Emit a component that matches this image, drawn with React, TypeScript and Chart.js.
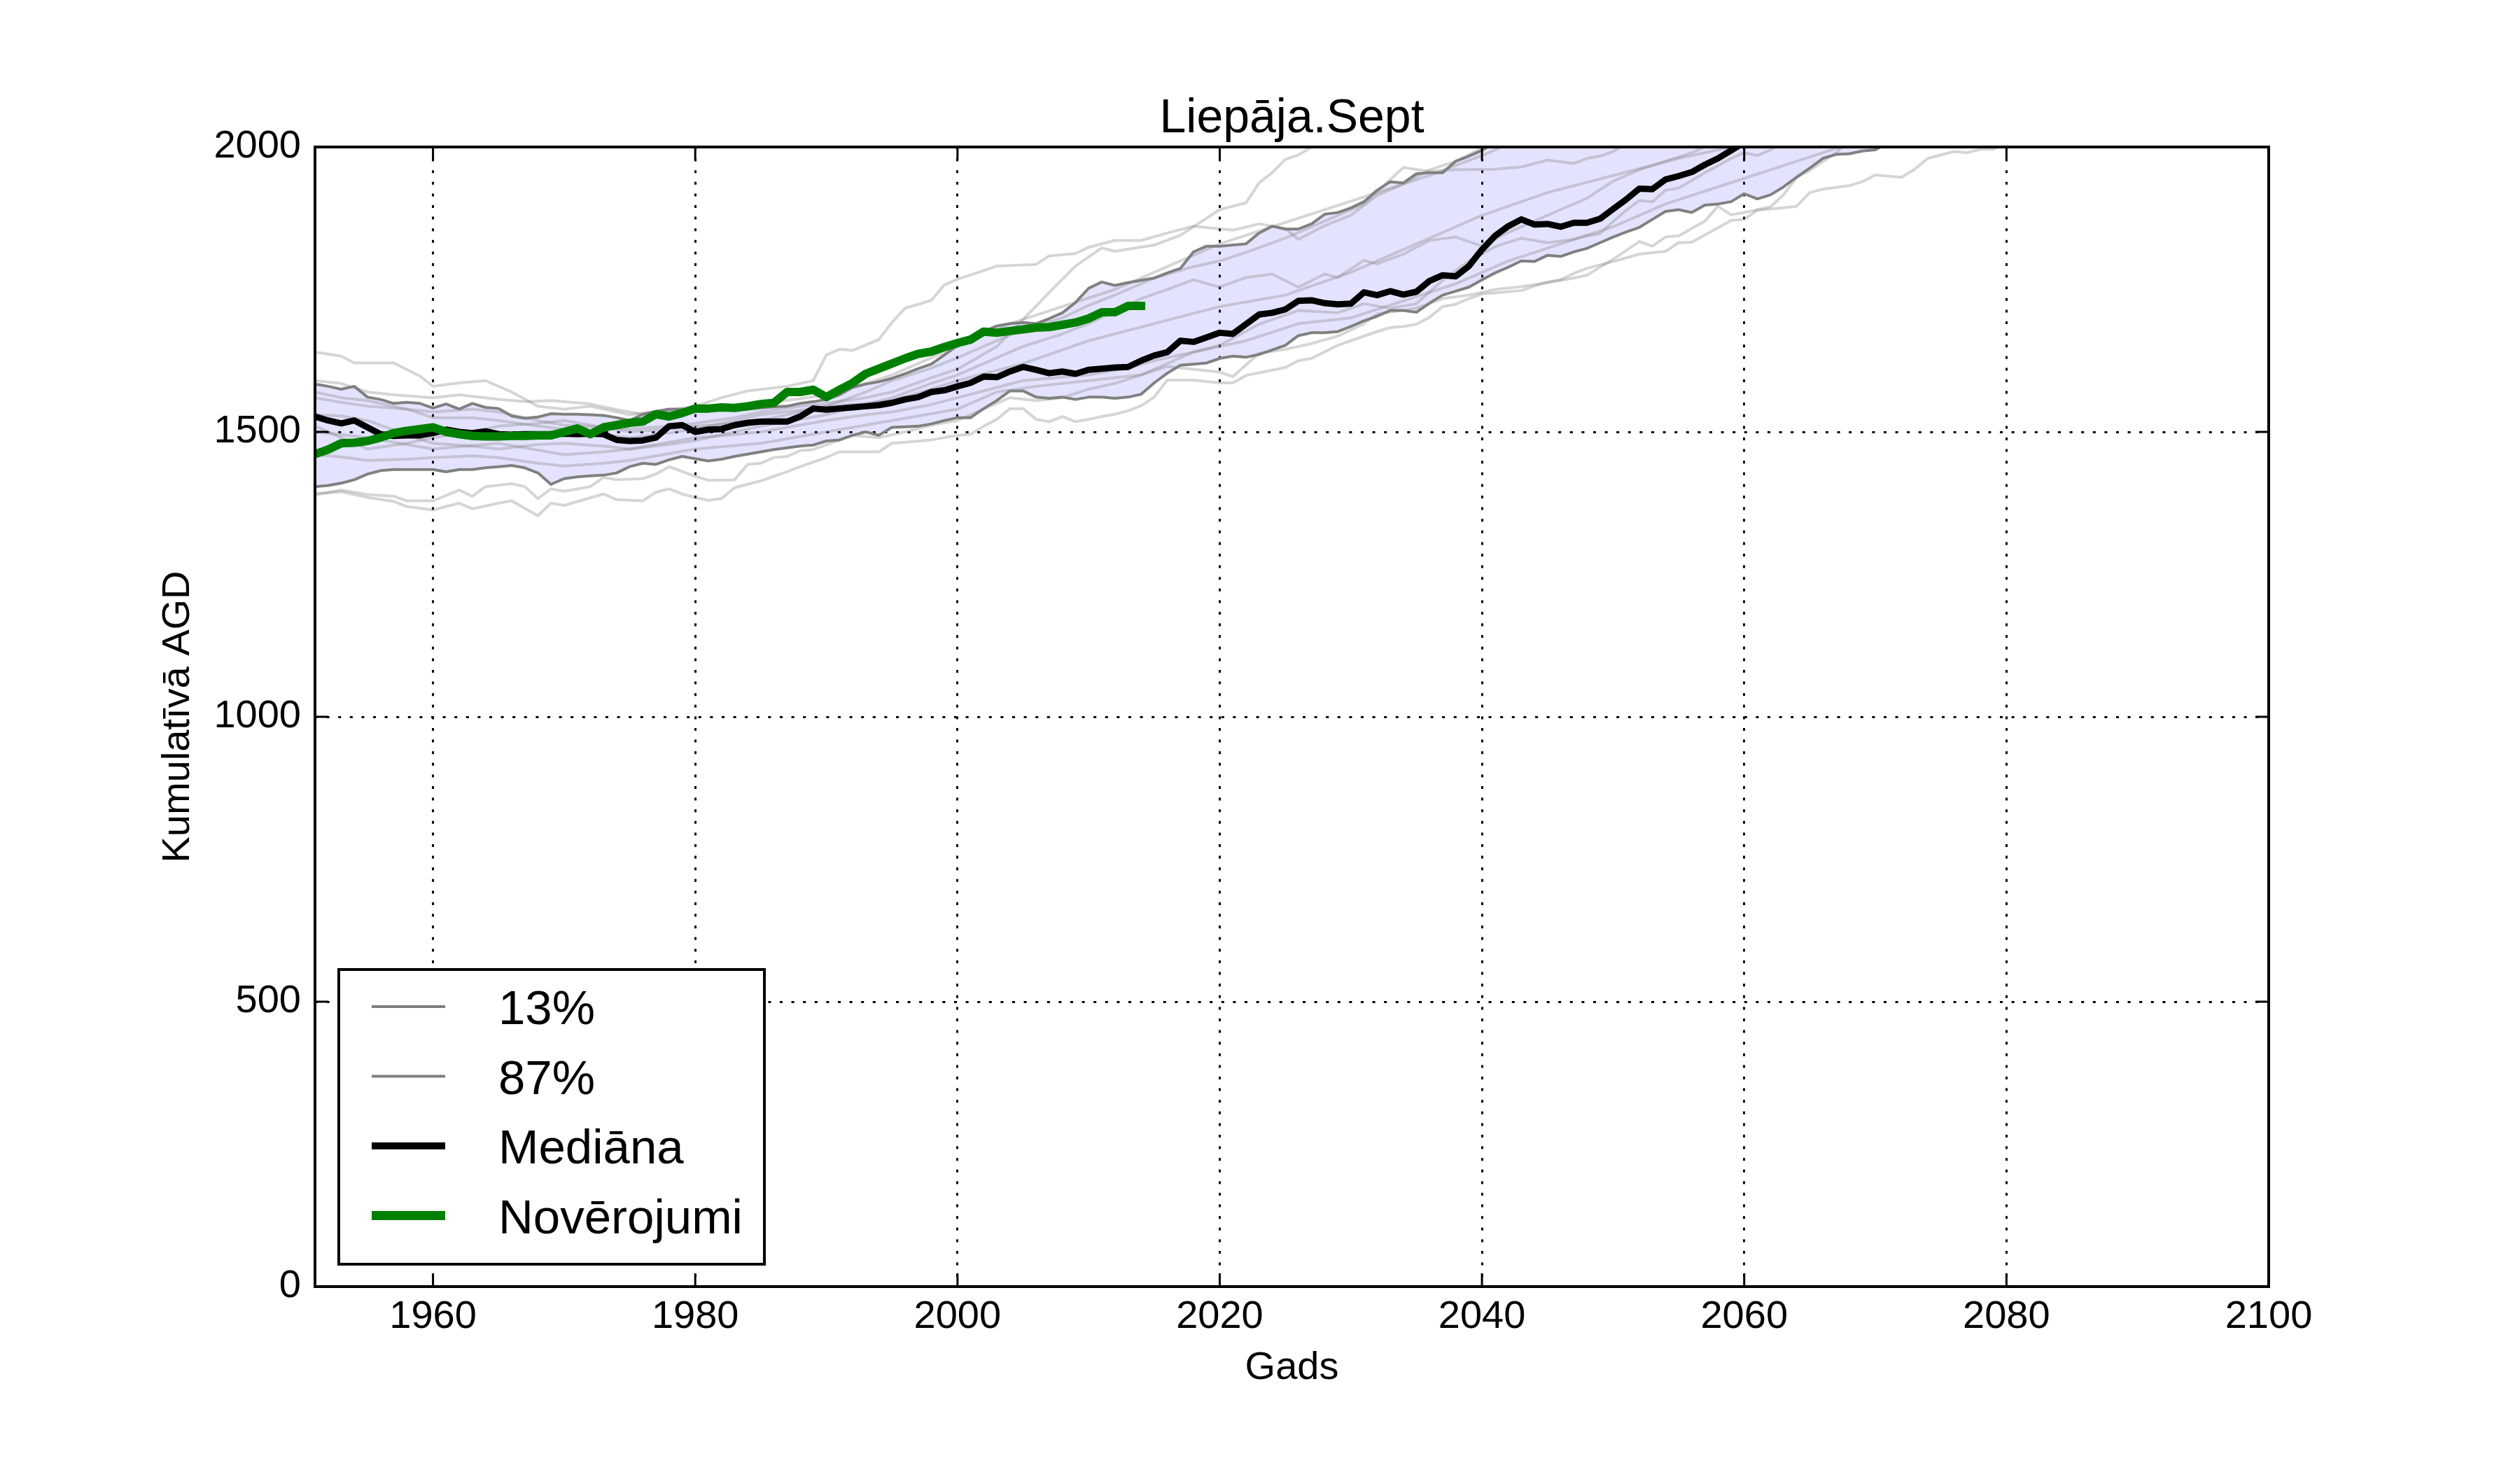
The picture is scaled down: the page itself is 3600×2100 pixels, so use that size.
import React, { useEffect, useRef } from 'react';
import { Chart, registerables } from 'chart.js';

Chart.register(...registerables);

const FONT = "'Liberation Sans', Arial, sans-serif";
const TITLE = 'Liepāja.Sept';
const X_TITLE = 'Gads';
const Y_TITLE = 'Kumulatīvā AGD';

const START_YEAR = 1951;
const xTicks = [1960, 1980, 2000, 2020, 2040, 2060, 2080, 2100];
const yTicks = [0, 500, 1000, 1500, 2000];

// Observations 1951..2014
const observed = [
  1461, 1469, 1480, 1481, 1484, 1490, 1498, 1502, 1505, 1508,
  1500, 1496, 1493, 1492, 1492, 1493, 1493, 1494, 1494, 1500,
  1506, 1496, 1508, 1512, 1516, 1518, 1531, 1527, 1533, 1541,
  1541, 1543, 1542, 1545, 1549, 1551, 1570, 1570, 1574, 1561,
  1574, 1586, 1602, 1611, 1620, 1629, 1637, 1641, 1649, 1656,
  1662, 1676, 1674, 1677, 1680, 1683, 1684, 1688, 1692, 1699,
  1710, 1710, 1721, 1721,
];

// Median 1951..2062
const median = [
  1527, 1520, 1515, 1520, 1508, 1496, 1493, 1494, 1494, 1498,
  1504, 1500, 1498, 1501, 1496, 1495, 1496, 1496, 1496, 1497,
  1496, 1497, 1496, 1486, 1484, 1485, 1490, 1510, 1512, 1500,
  1504, 1505, 1512, 1516, 1518, 1518, 1518, 1527, 1541, 1539,
  1541, 1543, 1545, 1547, 1551, 1557, 1561, 1570, 1573, 1580,
  1586, 1597, 1596, 1606, 1614, 1609, 1603, 1606, 1602, 1609,
  1611, 1613, 1614, 1625, 1634, 1640, 1660, 1658, 1666, 1674,
  1672, 1689, 1706, 1709, 1715, 1730, 1731, 1726, 1724, 1725,
  1745, 1740, 1747, 1741, 1746, 1765, 1775, 1773, 1791, 1820,
  1844, 1861, 1873, 1864, 1865, 1860, 1867, 1867, 1874, 1891,
  1908, 1927, 1926, 1943, 1949, 1956, 1969, 1980, 1994, 2008,
  2020, 2030,
];

// 13% quantile 1951..2072
const q13 = [
  1404, 1406, 1410, 1416, 1426, 1432, 1434, 1434, 1434, 1434,
  1430, 1434, 1434, 1437, 1439, 1441, 1437, 1428, 1408, 1418,
  1421, 1423, 1424, 1428, 1439, 1445, 1443, 1451, 1457, 1453,
  1449, 1452, 1457, 1461, 1465, 1469, 1472, 1475, 1477, 1484,
  1486, 1494, 1500, 1494, 1508, 1509, 1510, 1514, 1520, 1525,
  1525, 1541, 1555, 1572, 1572, 1561, 1559, 1561, 1557, 1561,
  1561, 1559, 1561, 1566, 1586, 1603, 1617, 1619, 1621, 1629,
  1633, 1631, 1636, 1644, 1652, 1669, 1674, 1674, 1676, 1685,
  1695, 1703, 1713, 1713, 1710, 1726, 1740, 1747, 1754, 1767,
  1779, 1789, 1800, 1799, 1810, 1808, 1816, 1822, 1832, 1842,
  1851, 1859, 1873, 1887, 1890, 1885, 1898, 1900, 1904, 1918,
  1909, 1916, 1930, 1947, 1963, 1980, 1987, 1988, 1993, 1995,
  2008, 2015,
];

// 87% quantile 1951..2042, then beyond the top of the axis
const q87 = [
  1584, 1580, 1575, 1580, 1561, 1557, 1550, 1552, 1550, 1542,
  1549, 1540, 1550, 1543, 1541, 1528, 1524, 1526, 1532, 1531,
  1531, 1530, 1529, 1525, 1520, 1531, 1536, 1540, 1540, 1540,
  1540, 1540, 1538, 1540, 1542, 1544, 1545, 1550, 1553, 1557,
  1565, 1578, 1584, 1588, 1594, 1602, 1611, 1619, 1635, 1652,
  1666, 1676, 1686, 1690, 1692, 1690, 1699, 1709, 1727, 1752,
  1763, 1757, 1762, 1766, 1770, 1779, 1787, 1816, 1826, 1826,
  1828, 1830, 1849, 1861, 1856, 1856, 1865, 1882, 1885, 1893,
  1904, 1924, 1939, 1937, 1953, 1955, 1955, 1975, 1984, 1994,
  2008, 2022,
];
const q87Beyond: [number, number][] = [[2050, 2110], [2060, 2250], [2072, 2400]];

// Individual ensemble members [year, value]
const memberA: [number, number][] = [[1951,1640],[1953,1633],[1954,1621],[1957,1621],[1959,1598],[1960,1580],[1962,1586],[1964,1590],[1966,1570],[1968,1545],[1970,1540],[1972,1545],[1975,1530],[1978,1538],[1980,1545],[1982,1560],[1984,1572],[1987,1580],[1989,1590],[1990,1635],[1991,1645],[1992,1643],[1994,1662],[1995,1692],[1996,1717],[1998,1731],[1999,1758],[2000,1768],[2002,1783],[2003,1791],[2006,1794],[2007,1809],[2009,1813],[2010,1824],[2012,1836],[2014,1836],[2016,1849],[2018,1861],[2021,1854],[2023,1865],[2025,1857],[2026,1838],[2028,1862],[2030,1880],[2032,1915],[2034,1935],[2036,1960],[2038,1975],[2040,1998],[2042,2020]];
const memberB: [number, number][] = [[1951,1560],[1953,1552],[1955,1545],[1958,1540],[1960,1535],[1963,1540],[1965,1535],[1968,1520],[1970,1512],[1973,1508],[1975,1505],[1978,1510],[1980,1515],[1983,1525],[1985,1535],[1988,1545],[1990,1550],[1993,1560],[1995,1570],[1998,1595],[2000,1610],[2003,1650],[2006,1721],[2007,1745],[2009,1791],[2011,1823],[2012,1817],[2015,1828],[2017,1845],[2020,1890],[2021,1896],[2022,1902],[2023,1937],[2024,1955],[2025,1978],[2026,1986],[2027,2000],[2028,2020]];
const memberC: [number, number][] = [[1951,1389],[1953,1398],[1955,1390],[1957,1387],[1958,1379],[1960,1379],[1962,1398],[1963,1387],[1964,1404],[1966,1409],[1967,1404],[1968,1383],[1969,1400],[1970,1396],[1972,1404],[1973,1420],[1974,1416],[1976,1418],[1977,1426],[1978,1439],[1980,1422],[1981,1415],[1983,1416],[1984,1443],[1985,1445],[1986,1455],[1987,1457],[1988,1467],[1989,1469],[1992,1494],[1994,1490],[1996,1500],[1998,1512],[2000,1520],[2002,1540],[2004,1560],[2006,1555],[2008,1560],[2010,1575],[2012,1585],[2014,1600],[2016,1615],[2018,1610],[2020,1605],[2021,1597],[2023,1638],[2025,1645],[2027,1655],[2029,1668],[2031,1690],[2032,1707],[2035,1717],[2037,1734],[2039,1740],[2041,1750],[2043,1755],[2045,1762],[2047,1770],[2048,1775],[2050,1803],[2052,1834],[2053,1826],[2054,1842],[2055,1844],[2057,1870],[2058,1896],[2059,1881],[2060,1885],[2062,1895],[2063,1916],[2064,1947],[2065,1959],[2067,1990],[2068,2010]];
const memberD: [number, number][] = [[1951,1392],[1953,1395],[1955,1385],[1957,1378],[1958,1369],[1960,1363],[1962,1375],[1963,1365],[1965,1375],[1966,1379],[1968,1353],[1969,1375],[1970,1371],[1973,1391],[1974,1381],[1976,1379],[1977,1394],[1978,1400],[1979,1391],[1980,1385],[1981,1380],[1982,1383],[1983,1402],[1985,1414],[1987,1430],[1988,1439],[1989,1447],[1990,1455],[1991,1465],[1994,1465],[1995,1480],[1996,1482],[1998,1486],[1999,1490],[2000,1494],[2001,1496],[2002,1510],[2003,1522],[2004,1541],[2005,1541],[2006,1522],[2007,1518],[2008,1527],[2009,1518],[2010,1522],[2011,1527],[2012,1531],[2013,1537],[2014,1546],[2015,1561],[2016,1591],[2018,1591],[2020,1586],[2021,1586],[2022,1599],[2025,1613],[2026,1625],[2027,1629],[2029,1652],[2030,1660],[2031,1668],[2032,1676],[2033,1683],[2034,1685],[2035,1689],[2036,1701],[2037,1720],[2038,1724],[2039,1734],[2040,1742],[2042,1746],[2043,1748],[2044,1756],[2045,1763],[2046,1767],[2047,1778],[2048,1787],[2050,1799],[2052,1812],[2054,1817],[2055,1832],[2056,1833],[2059,1871],[2060,1873],[2061,1889],[2062,1891],[2064,1896],[2065,1920],[2066,1926],[2068,1932],[2069,1939],[2070,1951],[2072,1947],[2073,1961],[2074,1980],[2076,1992],[2077,1990],[2078,1996],[2079,1996],[2080,2005],[2082,2020]];
const memberE: [number, number][] = [[1951,1570],[1953,1560],[1955,1555],[1958,1540],[1960,1525],[1963,1525],[1965,1520],[1968,1510],[1970,1505],[1973,1495],[1975,1490],[1978,1498],[1980,1505],[1983,1520],[1985,1530],[1988,1538],[1990,1545],[1993,1570],[1995,1590],[1998,1612],[2000,1630],[2003,1660],[2005,1680],[2008,1700],[2010,1722],[2012,1740],[2015,1770],[2018,1790],[2020,1800],[2022,1815],[2025,1840],[2028,1870],[2031,1900],[2034,1964],[2036,1957],[2038,1960],[2041,1961],[2043,1965],[2045,1977],[2047,1971],[2048,1980],[2049,1984],[2050,1992],[2051,2005]];
const memberF: [number, number][] = [[1951,1530],[1953,1528],[1955,1520],[1958,1495],[1960,1480],[1963,1475],[1965,1470],[1968,1478],[1970,1480],[1973,1475],[1975,1470],[1978,1478],[1980,1485],[1983,1500],[1985,1510],[1988,1522],[1990,1530],[1993,1548],[1995,1560],[1998,1585],[2000,1600],[2003,1630],[2005,1650],[2008,1672],[2010,1690],[2012,1712],[2014,1734],[2016,1750],[2018,1767],[2020,1754],[2022,1771],[2024,1777],[2026,1754],[2028,1777],[2029,1771],[2031,1801],[2032,1795],[2034,1812],[2036,1836],[2038,1842],[2040,1826],[2042,1850],[2044,1870],[2046,1890],[2048,1910],[2050,1940],[2052,1960],[2054,1975],[2056,1990],[2058,2010]];
const memberG: [number, number][] = [[1951,1500],[1953,1495],[1955,1490],[1958,1478],[1960,1470],[1963,1476],[1965,1480],[1968,1468],[1970,1460],[1973,1465],[1975,1470],[1978,1482],[1980,1490],[1983,1495],[1985,1500],[1988,1512],[1990,1520],[1993,1530],[1995,1535],[1998,1548],[2000,1560],[2003,1578],[2005,1590],[2008,1596],[2010,1600],[2013,1612],[2015,1625],[2018,1640],[2020,1652],[2023,1689],[2026,1713],[2029,1709],[2031,1725],[2033,1717],[2035,1725],[2037,1766],[2039,1800],[2041,1825],[2043,1840],[2045,1832],[2047,1838],[2048,1844],[2049,1848],[2050,1869],[2051,1889],[2052,1906],[2053,1904],[2054,1924],[2055,1928],[2056,1941],[2057,1955],[2058,1967],[2059,1980],[2060,1990],[2061,1985],[2062,1995],[2063,2010]];
const memberH: [number, number][] = [[1951,1460],[1953,1456],[1955,1450],[1958,1452],[1960,1455],[1963,1458],[1965,1455],[1968,1445],[1970,1440],[1973,1445],[1975,1450],[1978,1462],[1980,1470],[1983,1476],[1985,1480],[1988,1492],[1990,1500],[1993,1512],[1995,1520],[1998,1532],[2000,1540],[2003,1570],[2006,1580],[2010,1590],[2014,1600],[2018,1640],[2022,1660],[2026,1690],[2030,1700],[2034,1730],[2038,1760],[2042,1800],[2046,1830],[2050,1860],[2054,1900],[2058,1930],[2060,1945],[2062,1960],[2064,1975],[2066,1990],[2068,2005]];
const memberI: [number, number][] = [[1951,1590],[1953,1585],[1955,1570],[1957,1565],[1960,1560],[1962,1565],[1965,1557],[1967,1553],[1969,1555],[1972,1549],[1974,1539],[1976,1531],[1978,1535],[1980,1540],[1983,1545],[1985,1550],[1988,1558],[1990,1565],[1993,1585],[1995,1600],[1998,1630],[2000,1650],[2004,1690],[2008,1720],[2012,1750],[2016,1790],[2020,1830],[2024,1860],[2028,1890],[2032,1920],[2036,1950],[2040,1985],[2042,2005]];
const memberJ: [number, number][] = [[1951,1510],[1953,1490],[1955,1470],[1958,1480],[1960,1490],[1963,1500],[1965,1510],[1968,1515],[1970,1520],[1973,1508],[1975,1500],[1978,1505],[1980,1510],[1983,1515],[1985,1520],[1988,1535],[1990,1545],[1993,1550],[1995,1555],[1998,1575],[2000,1590],[2005,1620],[2010,1660],[2015,1690],[2020,1720],[2025,1740],[2030,1780],[2035,1830],[2040,1880],[2045,1920],[2050,1950],[2055,1980],[2060,2005]];

const members = [memberA, memberB, memberC, memberD, memberE, memberF, memberG, memberH, memberI, memberJ];

const yearly = (values: number[]) => values.map((v, i) => ({ x: START_YEAR + i, y: v }));
const pairs = (list: [number, number][]) => list.map(([x, y]) => ({ x, y }));

const COLORS = {
  obs: '#008000',
  median: '#000000',
  quant: '#808080',
  member: 'rgba(128,128,128,0.33)',
  band: 'rgba(0,0,255,0.11)',
};

const legendItems = [
  { label: '13%', color: COLORS.quant, width: 4 },
  { label: '87%', color: COLORS.quant, width: 4 },
  { label: 'Mediāna', color: COLORS.median, width: 10 },
  { label: 'Novērojumi', color: COLORS.obs, width: 13 },
];

const decorPlugin = {
  id: 'decor',
  afterDraw(chart: any) {
    const { ctx, chartArea: a, scales } = chart;
    const xs = scales.x;
    const ys = scales.y;
    ctx.save();
    // frame
    ctx.strokeStyle = '#000';
    ctx.lineWidth = 4;
    ctx.strokeRect(a.left, a.top, a.right - a.left, a.bottom - a.top);
    // inward ticks on all sides
    ctx.lineWidth = 3;
    ctx.beginPath();
    for (const t of xTicks) {
      const px = xs.getPixelForValue(t);
      ctx.moveTo(px, a.bottom);
      ctx.lineTo(px, a.bottom - 19);
      ctx.moveTo(px, a.top);
      ctx.lineTo(px, a.top + 19);
    }
    for (const t of yTicks) {
      const py = ys.getPixelForValue(t);
      ctx.moveTo(a.left, py);
      ctx.lineTo(a.left + 19, py);
      ctx.moveTo(a.right, py);
      ctx.lineTo(a.right - 19, py);
    }
    ctx.stroke();

    // titles
    ctx.fillStyle = '#000';
    ctx.textAlign = 'center';
    ctx.textBaseline = 'alphabetic';
    ctx.font = `68px ${FONT}`;
    ctx.fillText(TITLE, (a.left + a.right) / 2, a.top - 21);
    ctx.font = `56px ${FONT}`;
    ctx.fillText(X_TITLE, (a.left + a.right) / 2, a.bottom + 132);
    ctx.save();
    ctx.translate(a.left - 180, (a.top + a.bottom) / 2);
    ctx.rotate(-Math.PI / 2);
    ctx.fillText(Y_TITLE, 0, 0);
    ctx.restore();

    // legend
    const bl = a.left + 34;
    const br = a.left + 642;
    const bb = a.bottom - 32;
    const bt = bb - 421;
    ctx.fillStyle = '#fff';
    ctx.fillRect(bl, bt, br - bl, bb - bt);
    ctx.strokeStyle = '#000';
    ctx.lineWidth = 4;
    ctx.strokeRect(bl, bt, br - bl, bb - bt);
    ctx.font = `69px ${FONT}`;
    ctx.textAlign = 'left';
    legendItems.forEach((it, i) => {
      const cy = bt + 53 + i * 99.5;
      ctx.beginPath();
      ctx.strokeStyle = it.color;
      ctx.lineWidth = it.width;
      ctx.lineCap = 'butt';
      ctx.moveTo(bl + 47, cy);
      ctx.lineTo(bl + 152, cy);
      ctx.stroke();
      ctx.fillStyle = '#000';
      ctx.fillText(it.label, bl + 228, cy + 25);
    });
    ctx.restore();
  },
};

export default function App() {
  const ref = useRef<HTMLCanvasElement | null>(null);

  useEffect(() => {
    document.body.style.margin = '0';
    const canvas = ref.current;
    if (!canvas) return;

    const lineBase = {
      pointRadius: 0,
      pointHoverRadius: 0,
      tension: 0,
      fill: false,
      clip: 0,
      borderJoinStyle: 'round' as const,
      borderCapStyle: 'butt' as const,
    };

    const datasets: any[] = [
      { ...lineBase, label: 'Novērojumi', data: yearly(observed), borderColor: COLORS.obs, borderWidth: 12, borderCapStyle: 'square' },
      { ...lineBase, label: 'Mediāna', data: yearly(median), borderColor: COLORS.median, borderWidth: 9 },
      { ...lineBase, label: '13%', data: yearly(q13), borderColor: COLORS.quant, borderWidth: 4 },
      {
        ...lineBase,
        label: '87%',
        data: [...yearly(q87), ...pairs(q87Beyond)],
        borderColor: COLORS.quant,
        borderWidth: 4,
        fill: { target: 2 },
        backgroundColor: COLORS.band,
      },
      ...members.map((m, i) => ({
        ...lineBase,
        label: `m${i + 1}`,
        data: pairs(m),
        borderColor: COLORS.member,
        borderWidth: 4,
      })),
    ];

    const chart = new Chart(canvas, {
      type: 'line',
      data: { datasets },
      plugins: [decorPlugin],
      options: {
        animation: false,
        responsive: false,
        devicePixelRatio: 1,
        parsing: true,
        layout: { padding: { top: 210, right: 359, left: 0, bottom: 0 } },
        plugins: {
          legend: { display: false },
          title: { display: false },
          tooltip: { enabled: false },
          filler: { drawTime: 'beforeDatasetsDraw' },
        },
        scales: {
          x: {
            type: 'linear',
            min: 1951,
            max: 2100,
            afterFit: (s: any) => { s.height = 262; },
            afterBuildTicks: (s: any) => { s.ticks = xTicks.map((v) => ({ value: v })); },
            ticks: {
              color: '#000',
              font: { family: FONT, size: 56 },
              padding: 10,
              maxRotation: 0,
              autoSkip: false,
              callback: (v: any) => String(v),
            },
            grid: { color: '#000', lineWidth: 3, drawTicks: false },
            border: { display: false, dash: [4, 12.6] },
          },
          y: {
            type: 'linear',
            min: 0,
            max: 2000,
            afterFit: (s: any) => { s.width = 450; },
            afterBuildTicks: (s: any) => { s.ticks = yTicks.map((v) => ({ value: v })); },
            ticks: {
              color: '#000',
              font: { family: FONT, size: 56 },
              padding: 20,
              autoSkip: false,
              callback: (v: any) => String(v),
            },
            grid: { color: '#000', lineWidth: 3, drawTicks: false },
            border: { display: false, dash: [4, 12.6] },
          },
        },
      } as any,
    });

    return () => chart.destroy();
  }, []);

  return (
    <canvas
      ref={ref}
      width={3600}
      height={2100}
      style={{ display: 'block', width: '3600px', height: '2100px' }}
    />
  );
}
